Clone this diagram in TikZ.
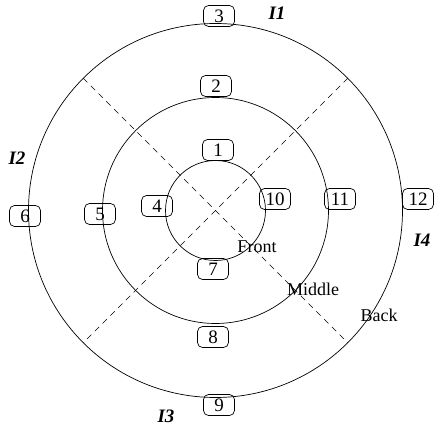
\documentclass[tikz,border=0pt]{standalone}
\usepackage{fontspec}
\setmainfont{Liberation Serif}
\begin{document}
\begin{tikzpicture}[x=1pt,y=-1pt,line width=.7pt,
  slot/.style={draw,rounded corners=5pt,minimum width=31pt,minimum height=21pt,inner sep=0pt,font=\fontsize{19}{19}\selectfont},
  ring/.style={draw,circle,inner sep=0pt,minimum size=#1},
  split/.style={dash pattern=on 6pt off 5pt},
  tag/.style={font=\fontsize{18}{18}\selectfont},
  zone/.style={font=\fontsize{19}{19}\selectfont\bfseries\itshape}]
  \useasboundingbox(0,0)rectangle(434,433);
  \coordinate(c)at(215.5,210.5);
  % the three rings
  \node[ring=100pt](front)at(c){};
  \node[ring=226pt](middle)at(c){};
  \node[ring=374pt](back)at(c){};
  \draw[split](back.135)--(back.-45);
  \draw[split](back.45)--(back.-135);
  % numbered slots
  \foreach \n/\x/\y in {1/218/150,2/216/86,3/219/16,4/157/206,5/100/214,6/25/216,
    7/213/269,8/213/337,9/219/405,10/275/199,11/340/199,12/418/199}
    \node[slot](s\n)at(\x,\y){\n};
  \node[tag]at(257,247){Front};
  \node[tag]at(313,289){Middle};
  \node[tag]at(379,315){Back};
  \node[zone](i1)at(277,13){I1};
  \node[zone](i2)at(17,158){I2};
  \node[zone](i3)at(166,416){I3};
  \node[zone](i4)at(422,240){I4};
\end{tikzpicture}
\end{document}
